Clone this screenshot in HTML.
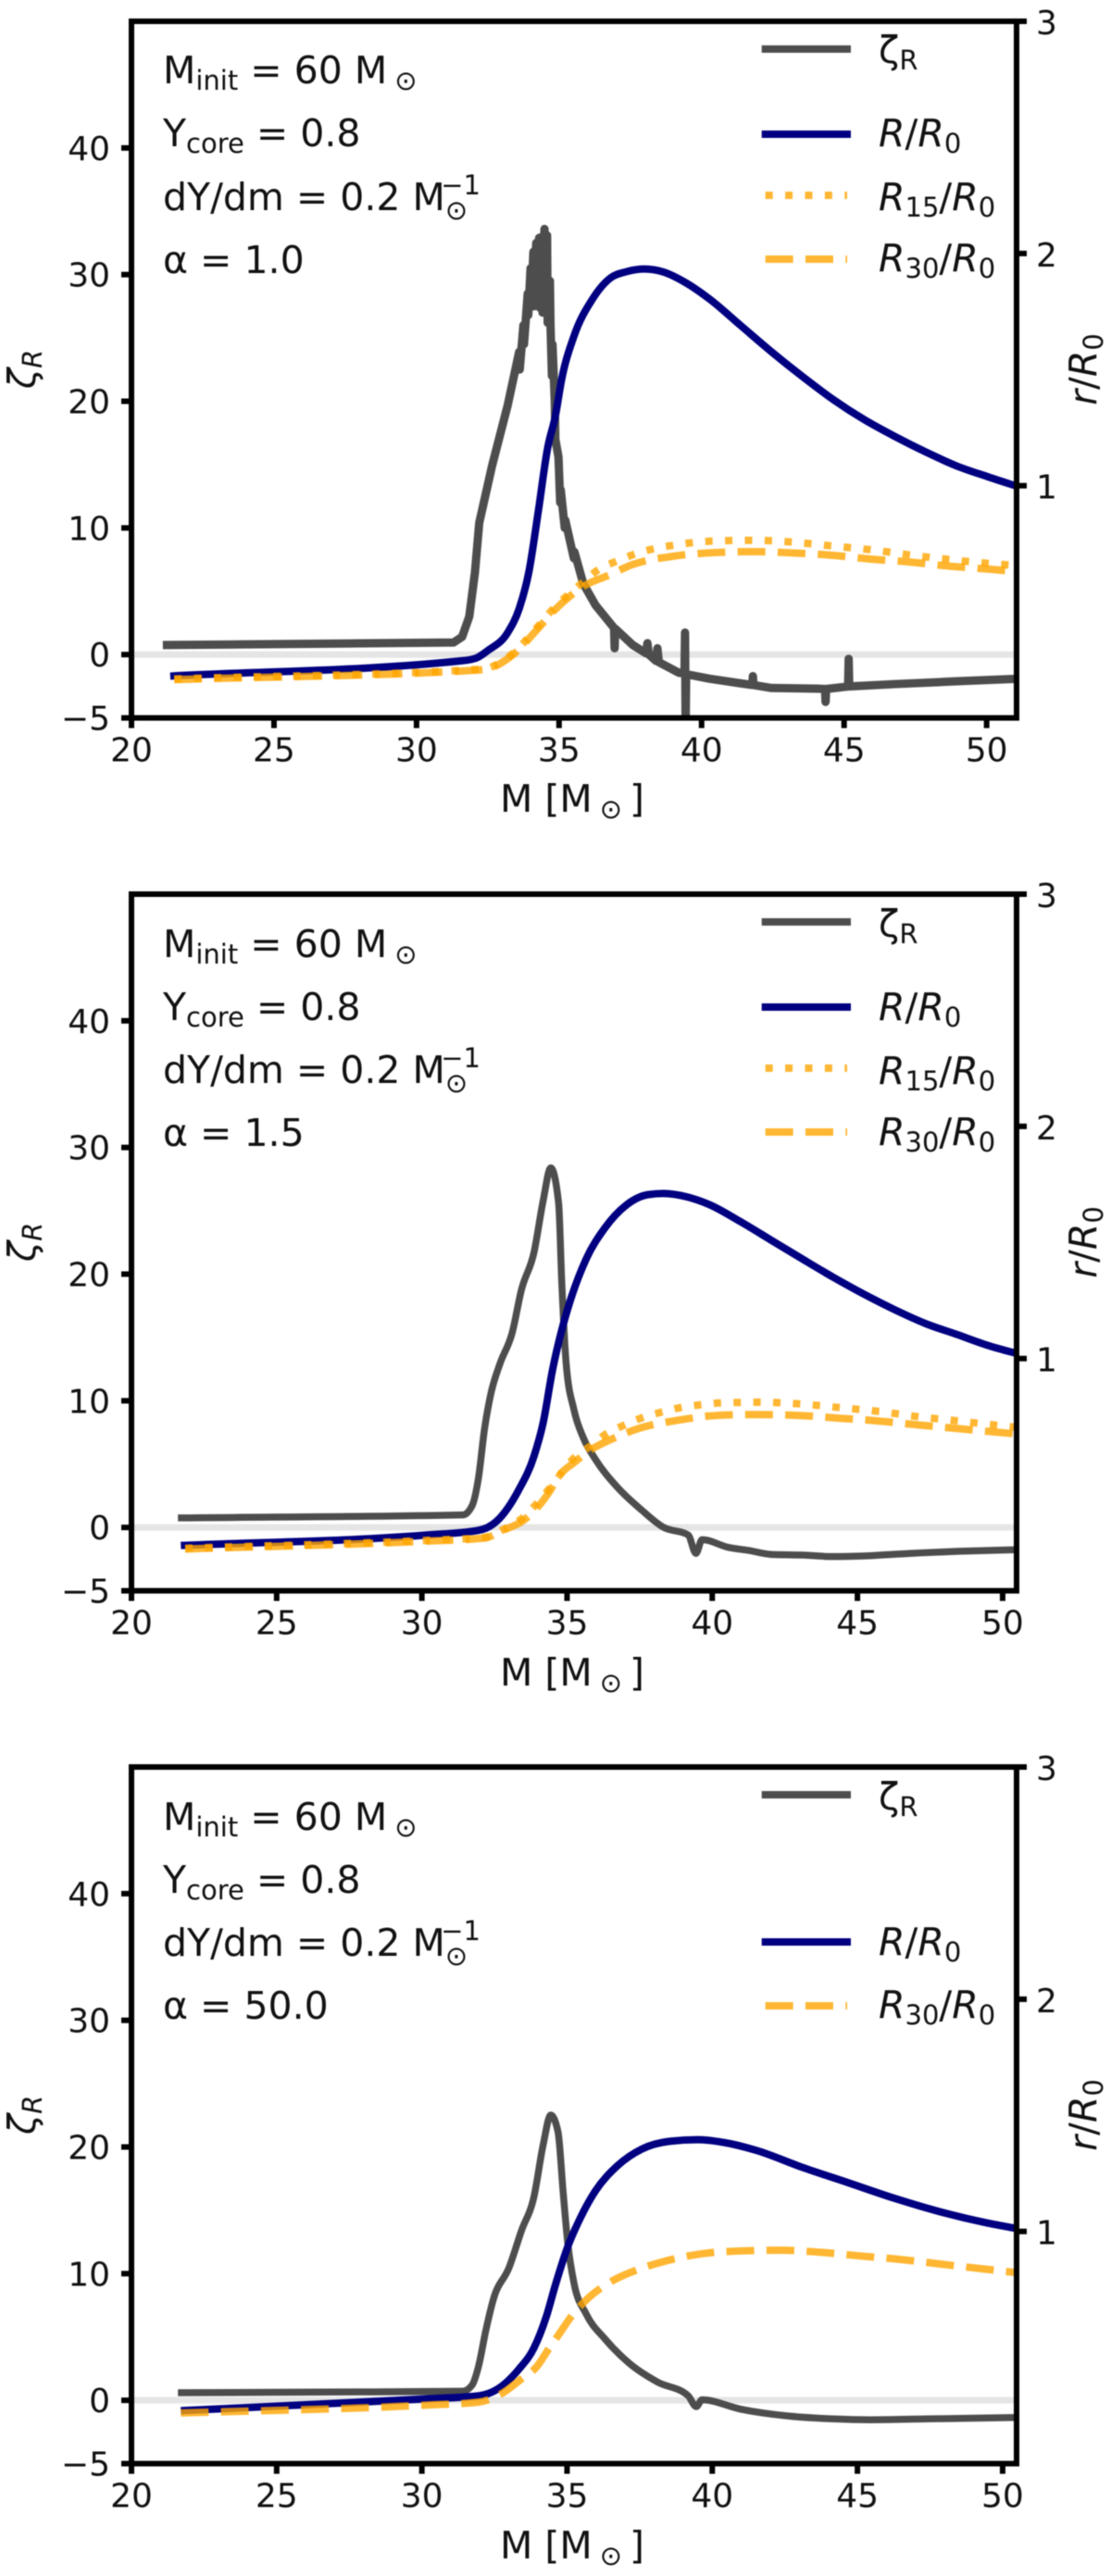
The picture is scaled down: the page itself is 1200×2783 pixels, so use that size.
<!DOCTYPE html>
<html lang="en">
<head>
<meta charset="utf-8">
<title>Zeta R and radius ratio versus mass</title>
<style>
html,body{margin:0;padding:0;background:#fff;}
svg{display:block;filter:blur(0.6px);}
text{font-family:"DejaVu Sans","Liberation Sans",sans-serif;fill:#111;}
.tick{font-size:36px;}
.ann{font-size:41px;}
.leg{font-size:41px;}
.lab{font-size:41px;}
</style>
</head>
<body>
<svg id="figure" width="1200" height="2783" viewBox="0 0 1200 2783" xmlns="http://www.w3.org/2000/svg">
  <rect width="1200" height="2783" fill="#fff"/>

  <g id="panel-1">
    <g id="marks-1"></g>
    <g transform="translate(0,23)">
      <text class="ann" x="176" y="67">M<tspan font-size="29" dy="7">init</tspan><tspan dy="-7"> = 60 M</tspan><tspan font-size="29" dy="7" dx="8">⊙</tspan></text>
      <text class="ann" x="176" y="135">Y<tspan font-size="29" dy="7">core</tspan><tspan dy="-7"> = 0.8</tspan></text>
      <text class="ann" x="176" y="204">dY/dm = 0.2 M<tspan font-size="29" dy="10">⊙</tspan><tspan font-size="29" dy="-27" dx="-29">−1</tspan></text>
      <text class="ann" x="176" y="272">α = 1.0</text>
      <text class="leg" x="949" y="45">ζ<tspan font-size="29" dy="7">R</tspan></text>
      <text class="leg" x="949" y="135"><tspan font-style="italic">R</tspan>/<tspan font-style="italic">R</tspan><tspan font-size="29" dy="7">0</tspan></text>
      <text class="leg" x="949" y="204"><tspan font-style="italic">R</tspan><tspan font-size="29" dy="7">15</tspan><tspan dy="-7">/</tspan><tspan font-style="italic">R</tspan><tspan font-size="29" dy="7">0</tspan></text>
      <text class="leg" x="949" y="270"><tspan font-style="italic">R</tspan><tspan font-size="29" dy="7">30</tspan><tspan dy="-7">/</tspan><tspan font-style="italic">R</tspan><tspan font-size="29" dy="7">0</tspan></text>
    </g>
    <text class="lab" x="618" y="877" text-anchor="middle">M [M<tspan font-size="29" dy="7" dx="8">⊙</tspan><tspan dy="-7" dx="8">]</tspan></text>
    <text class="lab" transform="translate(38,399) rotate(-90)" text-anchor="middle"><tspan font-style="italic">ζ</tspan><tspan font-size="29" dy="7" font-style="italic">R</tspan></text>
    <text class="lab" transform="translate(1184,399) rotate(-90)" text-anchor="middle"><tspan font-style="italic">r</tspan>/<tspan font-style="italic">R</tspan><tspan font-size="29" dy="7">0</tspan></text>
  </g>

  <g id="panel-2">
    <g id="marks-2"></g>
    <g transform="translate(0,966)">
      <text class="ann" x="176" y="68">M<tspan font-size="29" dy="7">init</tspan><tspan dy="-7"> = 60 M</tspan><tspan font-size="29" dy="7" dx="8">⊙</tspan></text>
      <text class="ann" x="176" y="136">Y<tspan font-size="29" dy="7">core</tspan><tspan dy="-7"> = 0.8</tspan></text>
      <text class="ann" x="176" y="204">dY/dm = 0.2 M<tspan font-size="29" dy="10">⊙</tspan><tspan font-size="29" dy="-27" dx="-29">−1</tspan></text>
      <text class="ann" x="176" y="272">α = 1.5</text>
      <text class="leg" x="949" y="46">ζ<tspan font-size="29" dy="7">R</tspan></text>
      <text class="leg" x="949" y="136"><tspan font-style="italic">R</tspan>/<tspan font-style="italic">R</tspan><tspan font-size="29" dy="7">0</tspan></text>
      <text class="leg" x="949" y="205"><tspan font-style="italic">R</tspan><tspan font-size="29" dy="7">15</tspan><tspan dy="-7">/</tspan><tspan font-style="italic">R</tspan><tspan font-size="29" dy="7">0</tspan></text>
      <text class="leg" x="949" y="271"><tspan font-style="italic">R</tspan><tspan font-size="29" dy="7">30</tspan><tspan dy="-7">/</tspan><tspan font-style="italic">R</tspan><tspan font-size="29" dy="7">0</tspan></text>
    </g>
    <text class="lab" x="618" y="1821" text-anchor="middle">M [M<tspan font-size="29" dy="7" dx="8">⊙</tspan><tspan dy="-7" dx="8">]</tspan></text>
    <text class="lab" transform="translate(38,1342) rotate(-90)" text-anchor="middle"><tspan font-style="italic">ζ</tspan><tspan font-size="29" dy="7" font-style="italic">R</tspan></text>
    <text class="lab" transform="translate(1184,1342) rotate(-90)" text-anchor="middle"><tspan font-style="italic">r</tspan>/<tspan font-style="italic">R</tspan><tspan font-size="29" dy="7">0</tspan></text>
  </g>

  <g id="panel-3">
    <g id="marks-3"></g>
    <g transform="translate(0,1909)">
      <text class="ann" x="176" y="68">M<tspan font-size="29" dy="7">init</tspan><tspan dy="-7"> = 60 M</tspan><tspan font-size="29" dy="7" dx="8">⊙</tspan></text>
      <text class="ann" x="176" y="136">Y<tspan font-size="29" dy="7">core</tspan><tspan dy="-7"> = 0.8</tspan></text>
      <text class="ann" x="176" y="204">dY/dm = 0.2 M<tspan font-size="29" dy="10">⊙</tspan><tspan font-size="29" dy="-27" dx="-29">−1</tspan></text>
      <text class="ann" x="176" y="272">α = 50.0</text>
      <text class="leg" x="949" y="46">ζ<tspan font-size="29" dy="7">R</tspan></text>
      <text class="leg" x="949" y="203"><tspan font-style="italic">R</tspan>/<tspan font-style="italic">R</tspan><tspan font-size="29" dy="7">0</tspan></text>
      <text class="leg" x="949" y="271"><tspan font-style="italic">R</tspan><tspan font-size="29" dy="7">30</tspan><tspan dy="-7">/</tspan><tspan font-style="italic">R</tspan><tspan font-size="29" dy="7">0</tspan></text>
    </g>
    <text class="lab" x="618" y="2764" text-anchor="middle">M [M<tspan font-size="29" dy="7" dx="8">⊙</tspan><tspan dy="-7" dx="8">]</tspan></text>
    <text class="lab" transform="translate(38,2285) rotate(-90)" text-anchor="middle"><tspan font-style="italic">ζ</tspan><tspan font-size="29" dy="7" font-style="italic">R</tspan></text>
    <text class="lab" transform="translate(1184,2285) rotate(-90)" text-anchor="middle"><tspan font-style="italic">r</tspan>/<tspan font-style="italic">R</tspan><tspan font-size="29" dy="7">0</tspan></text>
  </g>
</svg>

<script>
// Tick labels
const massTicks = [20, 25, 30, 35, 40, 45, 50];
const zetaTicks = [-5, 0, 10, 20, 30, 40];
const radiusTicks = [1, 2, 3];

// Panel 1 (alpha = 1.0)
const p1ZetaMass = [21.1,31.3,31.6,31.85,32.05,32.2,32.65,33.2,33.6,33.62,33.75,33.77,33.9,33.92,34.0,34.02,34.1,34.12,34.2,34.22,34.3,34.32,34.4,34.42,34.49,34.52,34.58,34.6,34.68,34.7,34.75,34.77,34.85,34.87,34.98,35.04,35.06,35.2,35.22,35.52,35.54,35.85,36.28,36.93,36.95,36.97,37.58,38.05,38.1,38.15,38.4,38.45,38.5,39.2,39.4,39.42,39.44,39.46,40.29,41.37,41.78,41.8,41.82,42.45,44.07,44.33,44.35,44.37,45.14,45.16,45.18,46.78,48.95,51.2];
const p1ZetaValue = [0.75,0.95,1.4,3,6.5,10.4,14.9,19.7,23.9,22.5,26,24.5,28.5,26.8,30.5,27.5,31.8,27.5,32.5,27.6,32.9,27.4,33,27,33.6,27.2,33.1,26.2,29.5,26,22,24.5,20,17,15.6,12,13,10,10.6,7.6,8.1,5.6,3.9,2.1,0.5,2.05,0.77,0.1,0.9,0,-0.5,0.5,-0.6,-1.43,-1.5,1.74,-5.5,-1.55,-1.91,-2.27,-2.4,-1.7,-2.4,-2.64,-2.69,-2.72,-3.74,-2.72,-2.52,-0.33,-2.52,-2.33,-2.11,-1.9];
const p1RadiusMass = [21.36,31.58,32.1,32.5,33.2,33.6,33.94,34.27,34.6,34.87,35.09,35.52,36.17,36.82,37.37,38.01,38.67,39.42,40.29,41.37,42.45,43.54,44.62,45.7,46.78,47.87,48.95,50.03,51.2];
const p1RadiusValue = [0.18,0.246,0.258,0.29,0.368,0.47,0.628,0.888,1.163,1.3,1.457,1.643,1.803,1.896,1.922,1.933,1.92,1.876,1.803,1.69,1.577,1.47,1.371,1.285,1.212,1.145,1.085,1.039,0.992];
const p1R15Mass = [21.5,32.3,33.3,34.3,34.87,35.41,35.96,36.39,37.04,37.69,38.34,39.04,39.75,40.45,41.8,43.2,44.62,46.02,47.43,48.84,50.2,51.2];
const p1R15Value = [0.168,0.21,0.27,0.4,0.48,0.54,0.597,0.64,0.676,0.707,0.729,0.744,0.756,0.762,0.765,0.757,0.74,0.723,0.7,0.68,0.664,0.655];
const p1R30Mass = [21.5,32.3,33.3,34.3,34.87,35.41,35.96,36.72,37.57,38.99,40.29,41.8,43.09,44.62,45.92,47.33,48.73,50.14,51.2];
const p1R30Value = [0.165,0.207,0.264,0.39,0.4675,0.527,0.574,0.613,0.66,0.696,0.711,0.716,0.711,0.7,0.684,0.671,0.653,0.64,0.628];

// Panel 2 (alpha = 1.5)
const p2ZetaMass = [21.6,31.41,31.73,31.95,32.16,32.37,32.69,33.11,33.43,33.86,34.18,34.44,34.71,34.82,34.97,35.24,35.56,35.98,36.73,37.58,38.32,39.17,39.44,39.65,40.55,41.24,42.04,43.1,44.16,45.23,46.81,48.42,50.6];
const p2ZetaValue = [0.75,0.99,1.72,3.91,7.81,10.49,12.93,15.36,18.77,21.7,25.83,28.39,25.59,19.25,12.93,9.27,7.08,5.37,3.18,1.35,0.01,-0.59,-2.05,-0.96,-1.57,-1.81,-2.13,-2.18,-2.3,-2.25,-2.05,-1.89,-1.75];
const p2RadiusMass = [21.7,30.14,31.95,32.58,33.33,33.86,34.18,34.5,34.82,35.03,35.66,36.3,37.05,37.79,38.32,39.07,39.92,40.98,42.04,43.1,44.17,45.23,46.29,47.36,48.42,49.48,50.6];
const p2RadiusValue = [0.195,0.24,0.26,0.3,0.433,0.579,0.725,0.951,1.124,1.217,1.429,1.562,1.662,1.706,1.711,1.698,1.662,1.589,1.509,1.429,1.35,1.277,1.21,1.15,1.104,1.057,1.018];
const p2R15Mass = [21.85,30.14,32.16,32.79,33.43,34.39,35.24,35.88,36.3,36.94,37.58,38.21,38.91,39.6,40.29,41.6,43,44.38,45.76,47.14,48.42,49.85,50.6];
const p2R15Value = [0.183,0.217,0.23,0.263,0.31,0.44,0.572,0.63,0.672,0.712,0.745,0.768,0.789,0.801,0.809,0.812,0.805,0.789,0.772,0.749,0.732,0.712,0.703];
const p2R30Mass = [21.85,30.14,32.16,32.79,33.54,34.39,34.71,35.24,35.88,36.52,37.47,38.85,40.13,41.5,43,44.38,45.66,47.04,48.42,49.8,50.6];
const p2R30Value = [0.18,0.2137,0.227,0.26,0.307,0.426,0.493,0.552,0.612,0.652,0.699,0.735,0.755,0.759,0.755,0.743,0.732,0.715,0.699,0.683,0.674];

// Panel 3 (alpha = 50)
const p3ZetaMass = [21.6,31.41,31.73,31.95,32.21,32.47,33.0,33.43,33.86,34.18,34.44,34.69,34.87,35.03,35.24,35.66,36.3,37.15,38.11,39.17,39.45,39.65,40.98,42.57,44.17,45.45,47.36,50.6];
const p3ZetaValue = [0.6,0.72,1.2,2.67,5.59,8.03,10.46,13.39,16.07,20.2,22.52,21.18,16.31,12.3,9.24,6.81,4.86,2.91,1.45,0.36,-0.5,0.04,-0.7,-1.23,-1.47,-1.54,-1.47,-1.35];
const p3RadiusMass = [21.7,30.14,31.95,32.58,33.33,33.86,34.28,34.6,35.03,35.45,35.98,36.73,37.58,38.53,39.49,40.45,41.52,43.1,44.7,46.29,47.89,49.48,50.6];
const p3RadiusValue = [0.228,0.279,0.292,0.319,0.405,0.498,0.631,0.77,0.936,1.056,1.175,1.282,1.355,1.388,1.395,1.382,1.349,1.276,1.209,1.142,1.083,1.036,1.01];
const p3R30Mass = [21.7,30.14,31.95,32.79,33.43,33.96,34.39,34.71,35.13,35.66,36.52,37.47,38.32,39.6,40.98,42.36,43.74,45.12,46.51,47.89,49.22,50.6];
const p3R30Value = [0.218,0.252,0.265,0.305,0.365,0.418,0.498,0.555,0.631,0.705,0.784,0.837,0.87,0.903,0.916,0.919,0.91,0.894,0.879,0.859,0.84,0.821];

const SVG_NS = 'http://www.w3.org/2000/svg';
const GREY = '#4d4d4d', NAVY = '#000080', AMBER = '#ffa500';

function make(parent, tag, attrs) {
  const el = document.createElementNS(SVG_NS, tag);
  for (const k in attrs) el.setAttribute(k, attrs[k]);
  parent.appendChild(el);
  return el;
}

function linePath(xs, ys, sx, sy) {
  let d = '';
  for (let i = 0; i < xs.length; i++) d += (i ? 'L' : 'M') + sx(xs[i]).toFixed(2) + ' ' + sy(ys[i]).toFixed(2);
  return d;
}

// Monotone cubic in x: no overshoot or loops with uneven spacing.
function smoothPath(xs, ys, sx, sy) {
  const px = xs.map(sx), py = ys.map(sy), n = px.length;
  const h = [], s = [], t = [];
  for (let i = 0; i < n - 1; i++) {
    h[i] = px[i + 1] - px[i];
    s[i] = (py[i + 1] - py[i]) / h[i];
  }
  t[0] = s[0];
  t[n - 1] = s[n - 2];
  for (let i = 1; i < n - 1; i++) {
    const p = (s[i - 1] * h[i] + s[i] * h[i - 1]) / (h[i - 1] + h[i]);
    t[i] = (Math.sign(s[i - 1]) + Math.sign(s[i])) * Math.min(Math.abs(s[i - 1]), Math.abs(s[i]), 0.5 * Math.abs(p));
  }
  let d = 'M' + px[0].toFixed(2) + ' ' + py[0].toFixed(2);
  for (let i = 0; i < n - 1; i++) {
    const c = h[i] / 3;
    d += 'C' + (px[i] + c).toFixed(2) + ' ' + (py[i] + t[i] * c).toFixed(2) + ' ' + (px[i + 1] - c).toFixed(2) + ' ' + (py[i + 1] - t[i + 1] * c).toFixed(2) + ' ' + px[i + 1].toFixed(2) + ' ' + py[i + 1].toFixed(2);
  }
  return d;
}

function drawPanel(cfg) {
  const root = document.getElementById(cfg.id);
  const L = 142, R = 1098, T = cfg.top, B = cfg.top + 752.6;
  const massToX = m => L + (m - 20) / (cfg.massMax - 20) * (R - L);
  const zetaToY = z => B - (z + 5) / 55 * (B - T);
  const radiusToY = r => B - r / 3 * (B - T);
  const zetaPath = cfg.zetaJagged ? linePath : smoothPath;

  const defs = make(root, 'defs', {});
  const clip = make(defs, 'clipPath', { id: cfg.id + '-clip' });
  make(clip, 'rect', { x: L, y: T, width: R - L, height: B - T });
  const plot = make(root, 'g', { 'clip-path': 'url(#' + cfg.id + '-clip)' });
  
  

  const band = make(plot, 'line', { x1: L, x2: R, y1: zetaToY(0), y2: zetaToY(0), stroke: '#e5e5e5', 'stroke-width': 7 });
  
  

  const zetaLine = make(plot, 'path', { d: zetaPath(cfg.zetaMass, cfg.zetaValue, massToX, zetaToY), fill: 'none', stroke: GREY, 'stroke-width': cfg.zetaWidth, 'stroke-linejoin': 'round' });
  
  

  const radiusLine = make(plot, 'path', { d: smoothPath(cfg.radiusMass, cfg.radiusValue, massToX, radiusToY), fill: 'none', stroke: NAVY, 'stroke-width': 8 });
  
  

  if (cfg.r15Mass) {
    const r15Line = make(plot, 'path', { d: smoothPath(cfg.r15Mass, cfg.r15Value, massToX, radiusToY), fill: 'none', stroke: AMBER, 'stroke-opacity': 0.8, 'stroke-width': 8, 'stroke-dasharray': '8 13.4' });
    
    
  }

  const r30Line = make(plot, 'path', { d: smoothPath(cfg.r30Mass, cfg.r30Value, massToX, radiusToY), fill: 'none', stroke: AMBER, 'stroke-opacity': 0.8, 'stroke-width': 8, 'stroke-dasharray': '30 13.3' });
  
  

  const frame = make(root, 'rect', { x: L, y: T, width: R - L, height: B - T, fill: 'none', stroke: '#000', 'stroke-width': 6 });
  
  

  massTicks.forEach(v => {
    const mark = make(root, 'line', { x1: massToX(v), x2: massToX(v), y1: B, y2: B + 11, stroke: '#000', 'stroke-width': 6 });
    
    
    const label = make(root, 'text', { x: massToX(v), y: B + 47, 'text-anchor': 'middle', class: 'tick' });
    
    
    label.textContent = String(v);
  });

  zetaTicks.forEach(v => {
    const mark = make(root, 'line', { x1: L - 11, x2: L, y1: zetaToY(v), y2: zetaToY(v), stroke: '#000', 'stroke-width': 6 });
    
    
    const label = make(root, 'text', { x: L - 23, y: zetaToY(v) + 13, 'text-anchor': 'end', class: 'tick' });
    
    
    label.textContent = String(v).replace('-', '\u2212');
  });

  radiusTicks.forEach(v => {
    const mark = make(root, 'line', { x1: R, x2: R + 11, y1: radiusToY(v), y2: radiusToY(v), stroke: '#000', 'stroke-width': 6 });
    
    
    const label = make(root, 'text', { x: R + 21, y: radiusToY(v) + 14, class: 'tick' });
    
    
    label.textContent = String(v);
  });

  const legendX1 = 826.7, legendX2 = 915;
  const zetaKey = make(root, 'line', { x1: legendX1 - 4, x2: legendX2 + 4, y1: T + cfg.keyZeta, y2: T + cfg.keyZeta, stroke: GREY, 'stroke-width': 8 });
  
  
  const radiusKey = make(root, 'line', { x1: legendX1 - 4, x2: legendX2 + 4, y1: T + cfg.keyRadius, y2: T + cfg.keyRadius, stroke: NAVY, 'stroke-width': 8 });
  
  
  if (cfg.r15Mass) {
    const r15Key = make(root, 'line', { x1: legendX1, x2: legendX2, y1: T + cfg.keyR15, y2: T + cfg.keyR15, stroke: AMBER, 'stroke-opacity': 0.8, 'stroke-width': 8, 'stroke-dasharray': '8 13.4' });
    
    
  }
  const r30Key = make(root, 'line', { x1: legendX1, x2: legendX2, y1: T + cfg.keyR30, y2: T + cfg.keyR30, stroke: AMBER, 'stroke-opacity': 0.8, 'stroke-width': 8, 'stroke-dasharray': '30 13.3' });
  
  
}

drawPanel({ id: 'marks-1', top: 23, massMax: 51.05, zetaWidth: 9, zetaJagged: true,
  zetaMass: p1ZetaMass, zetaValue: p1ZetaValue, radiusMass: p1RadiusMass, radiusValue: p1RadiusValue,
  r15Mass: p1R15Mass, r15Value: p1R15Value, r30Mass: p1R30Mass, r30Value: p1R30Value,
  keyZeta: 30, keyRadius: 122, keyR15: 188, keyR30: 257 });
drawPanel({ id: 'marks-2', top: 966, massMax: 50.48, zetaWidth: 7.5,
  zetaMass: p2ZetaMass, zetaValue: p2ZetaValue, radiusMass: p2RadiusMass, radiusValue: p2RadiusValue,
  r15Mass: p2R15Mass, r15Value: p2R15Value, r30Mass: p2R30Mass, r30Value: p2R30Value,
  keyZeta: 30, keyRadius: 122, keyR15: 188, keyR30: 257 });
drawPanel({ id: 'marks-3', top: 1909, massMax: 50.48, zetaWidth: 7.5,
  zetaMass: p3ZetaMass, zetaValue: p3ZetaValue, radiusMass: p3RadiusMass, radiusValue: p3RadiusValue,
  r30Mass: p3R30Mass, r30Value: p3R30Value,
  keyZeta: 30, keyRadius: 189, keyR30: 258 });
</script>
</body>
</html>
